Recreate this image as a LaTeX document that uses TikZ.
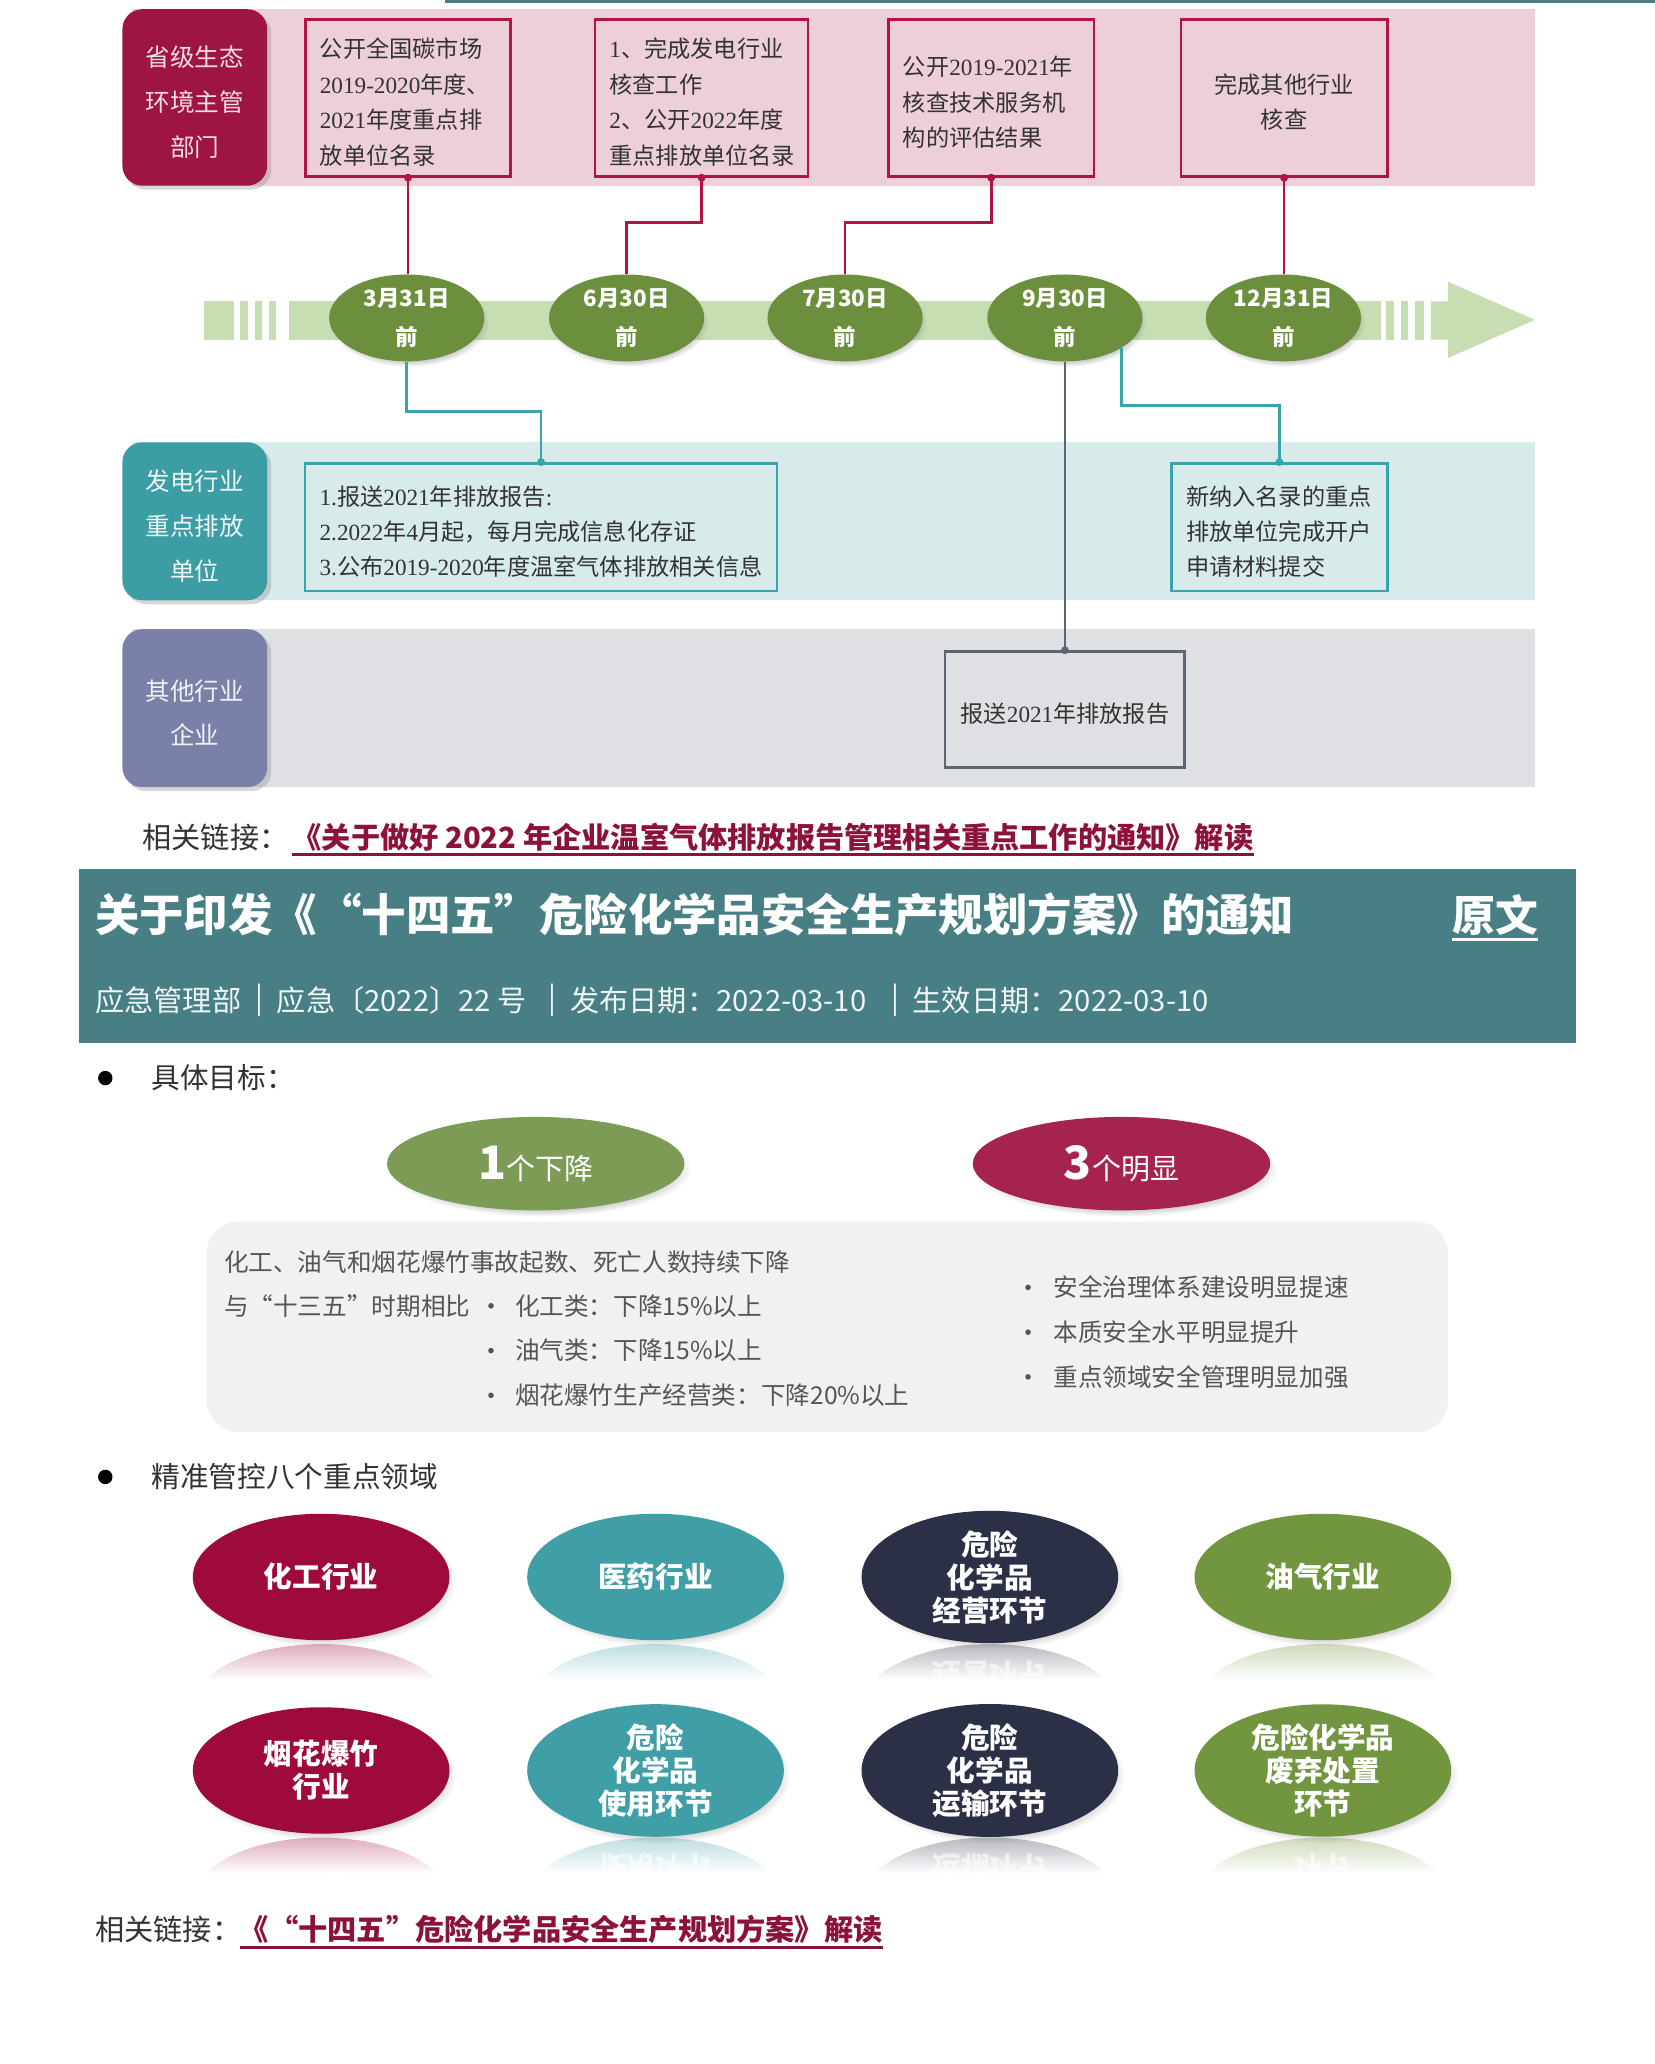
\documentclass[tikz,border=0pt]{standalone}
\usepackage{fontspec}
\setmainfont{Noto Sans CJK SC}
\newfontfamily\tnr{Liberation Serif}
\usetikzlibrary{shapes.geometric,fadings,shadows}
\newcommand{\nm}[1]{{\tnr #1}}
\newcommand{\fsz}[2]{\fontsize{#1pt}{#2pt}\selectfont}
\newcommand{\toppad}[1]{\rule{0pt}{#1}}
\definecolor{pinkband}{HTML}{EDCFD9}
\definecolor{crimlab}{HTML}{9E1442}
\definecolor{crimline}{HTML}{B3133F}
\definecolor{tealband}{HTML}{D7EBEB}
\definecolor{teallab}{HTML}{3C9DA5}
\definecolor{tealline}{HTML}{3AA4AC}
\definecolor{grayband}{HTML}{DFE0E3}
\definecolor{purplab}{HTML}{7B80A8}
\definecolor{grayline}{HTML}{5D6570}
\definecolor{tlband}{HTML}{C7DEB3}
\definecolor{tlcirc}{HTML}{6B8F3D}
\definecolor{header}{HTML}{477F84}
\definecolor{linkc}{HTML}{8C1239}
\definecolor{boxgray}{HTML}{F1F1F1}
\definecolor{txtd}{HTML}{333333}
\definecolor{txtg}{HTML}{555555}
\definecolor{ecrim}{HTML}{9E0B3B}
\definecolor{eteal}{HTML}{409EA6}
\definecolor{enavy}{HTML}{2B3046}
\definecolor{egreen}{HTML}{72963F}
\definecolor{topgreen}{HTML}{7C9C56}
\definecolor{topcrim}{HTML}{A62350}
\definecolor{lablight}{HTML}{F3DDE4}
\begin{document}
\begin{tikzpicture}[x=0.658pt,y=-0.658pt,
  lab/.style={rounded corners=10pt, minimum width=72.4pt, inner sep=0pt, align=center,
    font=\fsz{12.3}{22.4},
    drop shadow={shadow xshift=2pt,shadow yshift=-2pt,opacity=0.3}},
  tbox/.style={draw=crimline, line width=1.3pt, inner xsep=7.2pt, inner ysep=0pt,
    align=left, font=\fsz{11.6}{17.8}, text=txtd, minimum height=78.3pt,
    execute at begin node={\toppad{14pt}}},
  lbox/.style={line width=1.3pt, inner xsep=7.2pt, inner ysep=0pt,
    align=left, font=\fsz{11.6}{17.4}, text=txtd, minimum height=63.8pt,
    execute at begin node={\toppad{14pt}}},
  circ/.style={ellipse, fill=tlcirc, minimum width=77.6pt, minimum height=43.4pt,
    inner sep=0pt, align=center, text=white, font=\bfseries\fsz{11.2}{19.1},
    circular drop shadow={shadow scale=1.03, shadow xshift=1pt, shadow yshift=-2pt, opacity=0.45}},
  cline/.style={draw=crimline, line width=1.3pt},
  tline/.style={draw=tealline, line width=1.3pt},
  gline/.style={draw=grayline, line width=1.3pt},
  txt/.style={inner sep=0pt, anchor=west},
  gtxt/.style={txt, text=txtg, font=\fsz{12.3}{14}},
  subt/.style={txt, text=white!92!header, font=\fsz{14.6}{17}},
  subbar/.style={inner sep=0pt, text=white!92!header, font=\fsz{14.6}{17}},
  bigell/.style={ellipse, minimum width=148.7pt, minimum height=46.7pt, inner sep=0pt,
    text=white, circular drop shadow={shadow scale=1.02, shadow xshift=2pt, shadow yshift=-2.5pt, opacity=0.4}},
  sect/.style={ellipse, minimum width=128.3pt, minimum height=63.2pt, inner sep=0pt,
    align=center, text=white, font=\bfseries\fsz{14.3}{16.5},
    circular drop shadow={shadow scale=1.02, shadow xshift=2pt, shadow yshift=-2.5pt, opacity=0.4}},
  dotb/.style={circle, fill=black, minimum size=7.2pt, inner sep=0pt},
  dots/.style={circle, fill=txtg, minimum size=2.8pt, inner sep=0pt}
]
\useasboundingbox (0,0) rectangle (1257,1568);
\fill[white] (0,0) rectangle (1257,1568);

% top thin line
\fill[header] (338,0) rectangle (1257,2.5);

% bands
\fill[pinkband] (100,7) rectangle (1166,141);
\fill[tealband] (100,336) rectangle (1166,456);
\fill[grayband] (100,478) rectangle (1166,598);

% lane labels
\node[lab, fill=crimlab, text=lablight, minimum height=88.2pt] (L1) at (148,74) {\toppad{15pt}省级生态\\环境主管\\部门};
\node[lab, fill=teallab, text=white!92!teallab, minimum height=79pt] (L2) at (148,396) {\toppad{15pt}发电行业\\重点排放\\单位};
\node[lab, fill=purplab, text=white!90!purplab, minimum height=79pt] (L3) at (148,538) {\toppad{15pt}其他行业\\企业};

% top boxes
\node[tbox, text width=88.2pt] (b1) at (310,74.5) {公开全国碳市场\\\nm{2019-2020}年度、\\\nm{2021}年度重点排\\放单位名录};
\node[tbox, text width=92.1pt] (b2) at (533,74.5) {\nm{1}、完成发电行业\\核查工作\\\nm{2}、公开\nm{2022}年度\\重点排放单位名录};
\node[tbox, text width=88.2pt] (b3) at (753,74.5) {公开\nm{2019-2021}年\\核查技术服务机\\构的评估结果};
\node[tbox, text width=88.8pt, align=center] (b4) at (975.5,74.5) {完成其他行业\\核查};

% timeline band
\fill[tlband] (155,229) rectangle (177.6,258);
\fill[tlband] (182.6,229) rectangle (188.5,258);
\fill[tlband] (193.5,229) rectangle (199,258);
\fill[tlband] (204,229) rectangle (210,258);
\fill[tlband] (219.5,229) rectangle (1049,258);
\fill[tlband] (1053,229) rectangle (1059,258);
\fill[tlband] (1064,229) rectangle (1070,258);
\fill[tlband] (1075,229) rectangle (1082,258);
\fill[tlband] (1087,229) -- (1100,229) -- (1100,214) -- (1166,243) -- (1100,272) -- (1100,258) -- (1087,258) -- cycle;

% circles
\node[circ] (c1) at (309,241.5) {3月31日\\前};
\node[circ] (c2) at (476,241.5) {6月30日\\前};
\node[circ] (c3) at (642,241.5) {7月30日\\前};
\node[circ] (c4) at (809,241.5) {9月30日\\前};
\node[circ] (c5) at (975,241.5) {12月31日\\前};

% lower boxes
\node[lbox, draw=tealline, minimum width=235.6pt] (b5) at (411,400.5) {\toppad{14.5pt}\nm{1.}报送\nm{2021}年排放报告\nm{:}\\\nm{2.2022}年\nm{4}月起，每月完成信息化存证\\\nm{3.}公布\nm{2019-2020}年度温室气体排放相关信息};
\node[lbox, draw=tealline, text width=93.4pt] (b6) at (972,400.5) {新纳入名录的重点\\排放单位完成开户\\申请材料提交};
\node[lbox, draw=grayline, fill=grayband, align=center, minimum width=119.8pt, minimum height=57.9pt] (b7) at (809,539) {报送\nm{2021}年排放报告};

% connectors (upper)
\coordinate (k1) at (0,169);
\draw[cline] (b1.south) -- (b1.south |- c1.north);
\draw[cline] (b2.south) |- (k1 -| c2.north) -- (c2.north);
\draw[cline] (b3.south) |- (k1 -| c3.north) -- (c3.north);
\draw[cline] (b4.south) -- (b4.south |- c5.north);
\foreach \b in {b1,b2,b3,b4} \fill[crimline] (\b.south) circle (3);

% connectors (lower)
\coordinate (k2) at (0,312.5);
\coordinate (k3) at (0,308);
\draw[tline] (c1.south) |- (k2 -| b5.north) -- (b5.north);
\draw[tline] (c4.-28) -- (c4.-28 |- k3) -| (b6.north);
\draw[gline] (c4.south) -- (b7.north);
\fill[tealline] (b5.north) circle (3);
\fill[tealline] (b6.north) circle (3);
\fill[grayline] (b7.north) circle (3);

% link 1
\node[txt, text=txtd, font=\fsz{14.6}{17}] (r1) at (108,636) {相关链接：};
\node[txt, text=linkc, font=\bfseries\fsz{14.6}{17}] (l1) at (222,636) {《关于做好 2022 年企业温室气体排放报告管理相关重点工作的通知》解读};
\draw[linkc, line width=1.4pt] ([yshift=-1.5pt]l1.south west) -- ([yshift=-1.5pt]l1.south east);

% header
\fill[header] (60,660) rectangle (1197,792);
\node[txt, text=white, font=\bfseries\fsz{22.2}{26}] (title) at (72,695) {关于印发《“十四五”危险化学品安全生产规划方案》的通知};
\node[txt, text=white, font=\bfseries\fsz{21.4}{24}] (yw) at (1103,695) {原文};
\draw[white, line width=1.5pt] ([yshift=-2pt]yw.south west) -- ([yshift=-2pt]yw.south east);
\node[subt] (s1) at (72,760) {应急管理部};
\node[subbar] (v1) at (197,760) {|};
\node[subt] (s2) at (210,760) {应急〔2022〕22 号};
\node[subbar] (v2) at (420,760) {|};
\node[subt] (s3) at (433,760) {发布日期：2022-03-10};
\node[subbar] (v3) at (680,760) {|};
\node[subt] (s4) at (693,760) {生效日期：2022-03-10};

% goals
\node[dotb] (d1) at (80,819) {};
\node[txt, text=txtd, font=\fsz{14.3}{16}] (h1) at (115,819) {具体目标：};
\node[bigell, fill=topgreen] (g1) at (407,884) {{\bfseries\fsz{23}{23}1}{\fsz{14.5}{15}个下降}};
\node[bigell, fill=topcrim] (g3) at (852,884) {{\bfseries\fsz{23}{23}3}{\fsz{14.5}{15}个明显}};

\node[fill=boxgray, rounded corners=16pt, minimum width=620.5pt, minimum height=105.3pt, inner sep=0pt] (gb) at (628.5,1008) {};
\node[gtxt] (t1) at (170,959) {化工、油气和烟花爆竹事故起数、死亡人数持续下降};
\node[gtxt] (t2) at (170,992) {与“十三五”时期相比};
\node[dots] (p1) at (373,992) {};
\node[gtxt] (t3) at (391,992) {化工类：下降15\%以上};
\node[dots] (p2) at (373,1026) {};
\node[gtxt] (t4) at (391,1026) {油气类：下降15\%以上};
\node[dots] (p3) at (373,1060) {};
\node[gtxt] (t5) at (391,1060) {烟花爆竹生产经营类：下降20\%以上};
\node[dots] (p4) at (781,978) {};
\node[gtxt] (t6) at (800,978) {安全治理体系建设明显提速};
\node[dots] (p5) at (781,1012) {};
\node[gtxt] (t7) at (800,1012) {本质安全水平明显提升};
\node[dots] (p6) at (781,1046) {};
\node[gtxt] (t8) at (800,1046) {重点领域安全管理明显加强};

% eight fields
\node[dotb] (d2) at (80,1122) {};
\node[txt, text=txtd, font=\fsz{14.3}{16}] (h2) at (115,1122) {精准管控八个重点领域};

\foreach \cx/\cy/\col/\txt [count=\i] in {
  244/1198/ecrim/{化工行业},
  498/1198/eteal/{医药行业},
  752/1198/enavy/{危险\\化学品\\经营环节},
  1005/1198/egreen/{油气行业},
  244/1345/ecrim/{烟花爆竹\\行业},
  498/1345/eteal/{危险\\化学品\\使用环节},
  752/1345/enavy/{危险\\化学品\\运输环节},
  1005/1345/egreen/{危险化学品\\废弃处置\\环节}} {
  \begin{scope}
    \clip (\cx-100,\cy+50) rectangle (\cx+100,\cy+78);
    \clip (\cx,\cy+99) ellipse [x radius=97.5, y radius=48];
    \fill[\col, path fading=south, opacity=0.35] (\cx-100,\cy+50) rectangle (\cx+100,\cy+78);
    \begin{scope}[shift={(\cx,\cy+99)}, yscale=-1]
      \node[transform shape, align=center, text=white, opacity=0.6, font=\bfseries\fsz{14.3}{16.5}] (m\i) at (0,0) {\txt};
    \end{scope}
  \end{scope}
  \node[sect, fill=\col] (e\i) at (\cx,\cy) {\txt};
}

% link 2
\node[txt, text=txtd, font=\fsz{14.6}{17}] (r2) at (72,1466) {相关链接：};
\node[txt, text=linkc, font=\bfseries\fsz{14.6}{17}] (l2) at (182,1466) {《“十四五”危险化学品安全生产规划方案》解读};
\draw[linkc, line width=1.4pt] ([yshift=-1.5pt]l2.south west) -- ([yshift=-1.5pt]l2.south east);
\end{tikzpicture}
\end{document}
